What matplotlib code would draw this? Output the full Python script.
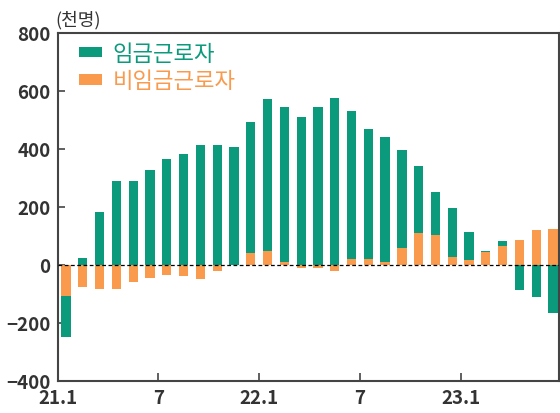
import matplotlib.pyplot as plt
import numpy as np

plt.rcParams['font.family'] = ['Noto Sans CJK KR', 'DejaVu Sans']

# 월별 증감 (천명), 21.1 ~ 23.6
wage = np.array([-141, 25, 183, 288, 288, 327, 366, 384, 413, 413,
                 405, 452, 523, 534, 510, 544, 575, 512, 448, 431,
                 337, 233, 150, 168, 99, 3, 19, -87, -111, -167])
nonwage = np.array([-109, -75, -82, -84, -60, -47, -36, -38, -50, -22,
                    0, 40, 49, 10, -11, -11, -20, 20, 21, 9,
                    59, 108, 102, 28, 15, 43, 64, 86, 120, 125])
tick_pos = [-0.5, 5.5, 11.5, 17.5, 23.5]
tick_labels = ['21.1', '7', '22.1', '7', '23.1']

green = '#0b9a7c'
orange = '#f99a4c'
dark = '#333333'

fig = plt.figure(figsize=(5.6, 4.14), dpi=100)
ax = fig.add_axes([0.103, 0.078, 0.895, 0.84])

x = np.arange(len(wage))
w = 0.55

# orange is the base, green stacks on it when signs agree
ax.bar(x, nonwage, width=w, color=orange, label='비임금근로자', zorder=2)
base = np.where(np.sign(wage) == np.sign(nonwage), nonwage, 0)
ax.bar(x, wage, width=w, bottom=base, color=green, label='임금근로자', zorder=2)

ax.axhline(0, color='black', linewidth=0.9, linestyle=(0, (3, 2)), zorder=3)

ax.set_xlim(-0.5, 29.35)
ax.set_ylim(-400, 800)
ax.set_yticks(range(-400, 801, 200))
ax.set_xticks(tick_pos)
ax.set_xticklabels(tick_labels)

for s in ax.spines.values():
    s.set_color('#444444')
    s.set_linewidth(1.5)

ax.tick_params(axis='y', direction='in', length=5, width=1.2, color='#444444',
               labelsize=13.5, labelcolor=dark, pad=5)
ax.tick_params(axis='x', direction='in', length=6, width=1.2, color='#444444',
               labelsize=13.5, labelcolor=dark, pad=5)
for lbl in ax.get_xticklabels() + ax.get_yticklabels():
    lbl.set_fontweight('bold')

fig.text(0.098, 0.952, '(천명)', fontsize=13, color=dark,
         ha='left', va='center')

handles, labels = ax.get_legend_handles_labels()
leg = ax.legend(handles[::-1], labels[::-1], loc='upper left',
                bbox_to_anchor=(0.025, 1.0), borderaxespad=0, frameon=False,
                fontsize=16, handlelength=1.05, handleheight=0.35,
                handletextpad=0.45, labelspacing=0.2)
for txt, c in zip(leg.get_texts(), [green, orange]):
    txt.set_color(c)

fig.savefig('out.png', dpi=100)
